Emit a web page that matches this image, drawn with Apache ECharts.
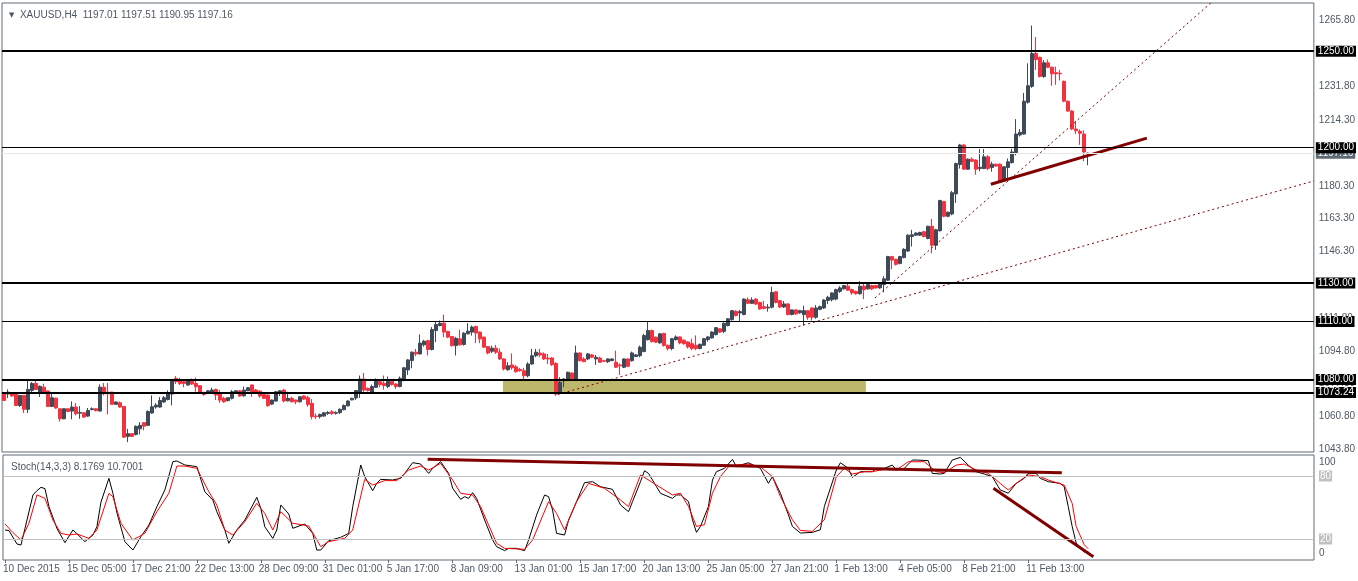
<!DOCTYPE html>
<html><head><meta charset="utf-8">
<script src="https://cdn.jsdelivr.net/npm/echarts@6/dist/echarts.min.js"></script>
<style>html,body{margin:0;padding:0;background:#fff}#c{width:1358px;height:581px}</style>
</head><body><div id="c"></div>
<script>
const tickLabels = ['10 Dec 2015','15 Dec 05:00','17 Dec 21:00','22 Dec 13:00','28 Dec 09:00','31 Dec 01:00','5 Jan 17:00','8 Jan 09:00','13 Jan 01:00','15 Jan 17:00','20 Jan 13:00','25 Jan 05:00','27 Jan 21:00','1 Feb 13:00','4 Feb 05:00','8 Feb 21:00','11 Feb 13:00'];
const priceTicks = [1043.8,1060.8,1077.8,1094.8,1111.8,1129.3,1146.3,1163.3,1180.3,1214.3,1231.8,1248.8,1265.8];
const stochTicks = [0,20,80,100];
const levels = [1250,1200,1130,1110,1080,1073.24];
const bidPrice = 1197.16;

const opens = [
1073.1,1072.4,1072.9,1072.4,1066.5,1071.7,1064.5,1074.3,1077.9,1073.4,
1076.0,1074.0,1066.0,1070.3,1064.8,1059.6,1064.8,1063.6,1065.7,1062.5,
1062.7,1061.0,1064.4,1064.8,1063.6,1076.0,1073.4,1073.4,1067.1,1067.9,
1066.0,1050.5,1051.9,1051.5,1054.4,1057.6,1056.2,1062.6,1065.7,1065.7,
1068.3,1069.6,1072.4,1080.5,1079.7,1078.8,1077.1,1079.7,1077.9,1076.7,
1073.3,1072.7,1073.4,1074.8,1072.4,1070.2,1069.0,1070.2,1073.3,1074.1,
1071.5,1074.1,1077.1,1074.5,1073.9,1072.2,1071.9,1067.2,1068.8,1072.7,
1074.5,1068.9,1070.2,1069.3,1068.4,1071.4,1070.5,1067.6,1061.0,1060.7,
1061.0,1062.4,1063.2,1062.5,1062.8,1064.3,1066.3,1069.4,1070.4,1072.8,
1080.2,1075.4,1073.3,1075.9,1078.9,1078.0,1076.3,1079.0,1077.6,1076.3,
1079.9,1084.9,1089.8,1094.1,1093.2,1097.9,1100.1,1095.5,1105.3,1107.9,
1109.1,1104.8,1102.2,1097.5,1101.0,1098.1,1103.6,1104.5,1107.4,1104.5,
1101.9,1097.0,1094.6,1096.2,1094.1,1090.6,1085.0,1087.5,1086.5,1085.2,
1084.5,1081.9,1088.0,1092.3,1093.7,1093.2,1091.0,1091.1,1088.3,1072.9,
1079.3,1079.7,1083.3,1080.2,1093.7,1090.6,1090.6,1092.7,1090.6,1091.1,
1089.7,1089.2,1089.7,1088.9,1087.5,1086.3,1090.6,1089.7,1091.9,1092.3,
1094.4,1100.6,1105.3,1101.9,1098.9,1103.8,1097.7,1096.0,1100.6,1102.0,
1100.3,1099.4,1098.5,1097.7,1096.0,1097.7,1100.6,1101.5,1103.2,1106.2,
1104.9,1107.9,1110.9,1115.3,1114.4,1113.6,1121.3,1119.4,1121.6,1119.9,
1117.7,1117.0,1117.4,1125.4,1120.8,1117.5,1119.1,1113.6,1116.0,1114.5,
1113.6,1115.6,1117.0,1112.2,1116.3,1117.0,1120.9,1121.3,1121.6,1125.6,
1126.9,1128.3,1126.5,1125.6,1124.4,1128.3,1126.9,1128.6,1128.6,1127.4,
1129.1,1131.4,1143.6,1142.2,1140.1,1143.1,1146.5,1154.0,1154.7,1154.7,
1156.5,1153.0,1159.3,1149.5,1157.0,1172.1,1164.5,1165.7,1176.1,1191.3,
1201.4,1188.9,1194.1,1193.6,1189.2,1189.2,1195.3,1189.8,1191.5,1191.5,
1183.0,1189.8,1192.3,1197.5,1206.6,1207.1,1223.6,1231.8,1248.8,1246.8,
1236.9,1244.0,1241.7,1238.9,1238.6,1234.4,1224.1,1219.0,1209.7,1208.5,
1207.1,1197.01];
const highs = [
1073.5,1074.8,1073.2,1072.6,1071.9,1071.9,1079.5,1078.6,1079.7,1076.9,
1077.8,1074.2,1073.4,1070.5,1065.0,1065.0,1065.2,1068.6,1067.7,1066.2,
1062.9,1065.2,1065.5,1065.2,1077.4,1078.1,1078.1,1073.6,1068.6,1068.6,
1066.2,1054.4,1052.2,1056.2,1057.9,1057.9,1063.9,1071.7,1067.7,1070.8,
1071.4,1074.3,1080.2,1081.7,1080.9,1079.7,1080.0,1080.5,1080.9,1077.1,
1073.6,1074.5,1075.7,1075.2,1074.5,1071.0,1070.7,1074.5,1074.4,1074.5,
1076.2,1076.0,1077.4,1075.0,1074.5,1072.7,1072.2,1069.6,1074.0,1074.5,
1075.0,1073.6,1071.0,1069.6,1071.2,1071.9,1071.5,1069.8,1062.4,1062.2,
1063.1,1063.6,1064.1,1063.5,1065.0,1067.0,1069.2,1070.5,1074.5,1082.0,
1083.4,1075.8,1077.3,1080.5,1080.2,1082.0,1081.5,1079.5,1078.0,1081.5,
1086.5,1090.5,1094.5,1095.8,1103.3,1100.5,1100.5,1107.1,1109.7,1110.5,
1113.6,1105.2,1102.5,1102.0,1105.8,1104.5,1109.1,1107.9,1107.9,1104.8,
1102.2,1097.3,1097.5,1097.9,1096.0,1091.0,1088.9,1093.5,1087.5,1086.0,
1086.0,1088.9,1095.8,1095.8,1095.8,1094.0,1093.2,1091.5,1088.9,1081.1,
1080.7,1084.0,1083.7,1097.5,1094.0,1091.5,1093.7,1093.2,1092.7,1091.8,
1090.2,1091.0,1091.0,1094.9,1088.3,1090.9,1091.0,1094.4,1093.2,1097.5,
1103.6,1110.0,1105.8,1102.2,1104.0,1104.2,1098.0,1101.5,1102.8,1102.3,
1100.8,1099.8,1101.1,1102.8,1098.5,1101.5,1102.4,1105.0,1107.1,1106.6,
1109.5,1111.8,1116.0,1115.8,1116.0,1122.0,1122.5,1122.5,1122.0,1120.2,
1120.7,1119.0,1128.0,1125.8,1121.2,1120.6,1119.5,1116.3,1116.3,1116.0,
1118.2,1116.0,1117.3,1118.5,1118.2,1121.6,1123.3,1125.0,1127.0,1128.3,
1129.0,1130.3,1127.0,1126.0,1130.9,1129.7,1130.0,1129.0,1129.0,1130.3,
1133.5,1144.0,1144.0,1142.5,1144.0,1148.0,1155.2,1157.5,1156.2,1156.5,
1157.0,1159.6,1163.1,1158.0,1173.0,1172.5,1167.0,1177.6,1192.3,1202.0,
1202.0,1194.5,1195.0,1194.0,1199.3,1199.3,1196.2,1192.7,1191.8,1191.8,
1190.5,1194.4,1199.5,1214.8,1209.7,1228.4,1243.7,1263.3,1257.3,1247.2,
1245.4,1245.7,1242.0,1242.0,1240.3,1234.8,1224.5,1219.4,1213.9,1209.5,
1209.0,1197.51];
const lows = [
1068.8,1070.3,1071.0,1066.2,1065.7,1062.6,1062.6,1073.4,1074.6,1070.9,
1072.6,1065.8,1065.7,1064.8,1058.2,1059.3,1063.0,1059.3,1061.4,1059.6,
1060.0,1060.5,1063.9,1063.4,1063.4,1071.7,1061.9,1066.9,1066.9,1065.3,
1049.8,1047.5,1050.1,1051.0,1051.5,1053.6,1055.8,1062.2,1064.8,1065.3,
1067.9,1069.1,1066.5,1077.6,1077.1,1075.9,1076.7,1077.1,1073.6,1072.4,
1071.5,1072.4,1073.1,1069.3,1067.9,1067.9,1068.6,1069.6,1073.0,1071.0,
1071.0,1073.9,1071.0,1072.7,1070.5,1069.8,1065.8,1066.7,1068.4,1071.4,
1068.1,1068.6,1068.1,1067.2,1068.1,1069.3,1065.8,1059.3,1059.4,1059.8,
1060.7,1061.6,1061.6,1061.8,1062.0,1064.0,1066.0,1069.2,1069.3,1070.4,
1072.5,1073.7,1072.5,1075.5,1075.9,1074.7,1075.5,1076.8,1075.1,1075.9,
1079.0,1082.3,1085.8,1092.0,1093.0,1097.0,1092.4,1095.0,1099.3,1107.5,
1101.9,1101.4,1097.0,1092.4,1097.5,1097.5,1103.3,1102.7,1098.9,1098.8,
1096.2,1093.0,1093.7,1093.2,1090.0,1084.6,1084.5,1085.0,1083.5,1084.0,
1079.7,1081.1,1087.5,1091.5,1091.5,1090.0,1088.0,1087.0,1071.5,1072.4,
1075.9,1079.3,1079.7,1079.9,1089.3,1088.9,1090.0,1091.0,1087.5,1088.5,
1089.0,1088.5,1089.5,1085.9,1082.3,1085.9,1086.4,1089.2,1091.5,1091.5,
1094.1,1100.1,1099.1,1098.8,1098.5,1097.0,1095.0,1095.1,1100.1,1098.2,
1098.0,1096.0,1095.1,1095.1,1095.6,1097.3,1099.5,1101.1,1102.8,1104.0,
1104.0,1107.5,1110.5,1112.6,1110.0,1113.2,1119.0,1119.0,1118.5,1116.0,
1116.3,1115.1,1116.8,1119.4,1117.0,1117.0,1113.2,1113.2,1113.5,1114.0,
1108.0,1110.9,1110.5,1111.4,1115.8,1116.5,1119.0,1120.4,1121.0,1124.8,
1126.5,1125.8,1123.9,1123.9,1123.9,1121.6,1126.5,1126.2,1127.0,1127.0,
1125.1,1131.0,1137.0,1139.0,1139.6,1142.7,1146.0,1148.8,1154.3,1154.3,
1153.6,1152.6,1145.3,1147.1,1156.6,1164.0,1164.0,1165.0,1171.4,1189.2,
1188.5,1188.5,1192.5,1186.0,1187.8,1188.9,1188.3,1187.6,1190.1,1182.0,
1182.5,1183.7,1191.8,1196.1,1205.8,1206.8,1222.8,1231.0,1240.3,1236.4,
1236.2,1241.2,1232.1,1232.6,1234.9,1223.6,1218.5,1209.2,1207.1,1201.5,
1193.0,1190.95];
const closes = [
1069.1,1073.4,1071.4,1066.5,1071.7,1064.5,1074.8,1077.9,1074.8,1076.4,
1073.4,1066.0,1070.5,1065.2,1059.6,1064.8,1063.4,1065.7,1062.2,1062.9,
1060.5,1063.9,1064.8,1063.8,1076.0,1072.6,1072.6,1067.1,1068.3,1065.7,
1050.1,1051.9,1050.5,1055.7,1056.2,1055.8,1063.4,1065.8,1066.7,1069.1,
1070.5,1073.1,1080.0,1078.8,1077.9,1077.9,1079.7,1077.6,1076.2,1072.7,
1072.2,1074.1,1074.5,1071.9,1069.3,1068.4,1070.5,1073.6,1074.1,1071.4,
1074.5,1075.7,1072.7,1073.3,1071.4,1070.2,1066.4,1069.3,1073.6,1074.1,
1068.8,1070.2,1068.4,1068.4,1071.0,1069.8,1067.0,1060.7,1060.7,1061.9,
1062.7,1062.9,1062.4,1062.8,1064.5,1066.5,1068.8,1070.2,1074.2,1080.2,
1074.5,1074.2,1076.3,1079.9,1077.3,1076.8,1079.0,1077.3,1076.3,1080.6,
1086.0,1090.1,1094.1,1093.2,1098.8,1099.8,1095.5,1105.8,1108.4,1109.1,
1104.5,1101.9,1097.5,1101.3,1097.9,1103.9,1105.0,1107.1,1104.0,1101.0,
1096.7,1093.7,1096.2,1094.1,1090.6,1085.4,1087.1,1086.0,1084.0,1084.5,
1081.9,1088.0,1092.3,1094.1,1092.7,1090.6,1090.6,1087.6,1072.4,1078.5,
1080.2,1083.7,1080.2,1093.7,1089.7,1089.2,1093.2,1091.5,1091.5,1088.9,
1089.4,1090.6,1090.6,1086.3,1087.1,1090.6,1086.8,1093.7,1092.7,1096.7,
1102.7,1105.3,1099.6,1099.3,1103.6,1097.5,1096.0,1101.1,1102.0,1098.9,
1098.5,1096.8,1096.0,1096.0,1098.2,1101.1,1102.0,1104.5,1106.8,1104.5,
1109.1,1111.4,1115.6,1113.1,1115.1,1121.6,1119.4,1121.1,1119.0,1116.5,
1116.8,1117.4,1125.0,1119.9,1117.5,1119.1,1113.6,1116.0,1113.9,1115.6,
1115.6,1112.2,1112.2,1117.0,1117.7,1121.1,1122.5,1124.8,1126.5,1127.4,
1128.6,1126.2,1124.8,1124.4,1128.3,1126.5,1129.1,1126.9,1127.4,1130.0,
1132.1,1143.6,1141.8,1139.6,1143.6,1147.4,1154.7,1154.9,1155.8,1156.1,
1154.0,1159.3,1149.5,1157.5,1172.7,1164.5,1166.6,1176.7,1191.8,1201.4,
1188.9,1194.1,1193.0,1188.9,1189.9,1195.3,1189.2,1191.5,1190.5,1182.5,
1190.1,1192.7,1197.8,1207.1,1208.0,1224.1,1232.1,1248.8,1245.7,1236.9,
1244.0,1241.7,1238.3,1238.3,1238.3,1224.1,1219.0,1209.7,1208.8,1207.5,
1197.8,1197.16];

// Stochastic main (%K) and signal (%D), read as [bar, value]
const stochK = [[0,28.6],[1,28],[3,15.2],[4,14.3],[5,30],[7,62],[8,66],[9,69.2],[10,68],[11,50.8],[13,30],[15,16.5],[17,28.6],[18,25],[20,17.5],[22,23.8],[23,31.7],[24,55],[26,77.8],[27,63.5],[28,45],[30,17.5],[32,9.5],[34,22.2],[36,33.3],[38,50.8],[40,66.7],[42,93.7],[43,94.3],[45,90.5],[48,88.9],[50,65],[52,57.1],[53,46],[55,28.6],[56,15.9],[58,28.6],[60,38],[63,59.7],[64,49.2],[65,31.7],[67,20.6],[68,28.6],[69,52.4],[71,43.8],[72,30.2],[75,34.3],[77,25.4],[78,9.5],[79,9.5],[81,18.4],[84,21.6],[86,25.4],[87,50.8],[89,90.5],[90,79.4],[92,66],[93,73],[94,76.8],[97,76.2],[99,77.8],[100,82.5],[102,92.7],[104,91.4],[106,82.5],[107,87.3],[109,93.7],[111,82.5],[112,68.3],[114,57.8],[115,60.3],[116,58.7],[117,64.1],[118,58.7],[120,38.1],[122,19],[123,12.7],[125,8.9],[126,11.1],[128,11.1],[130,8.9],[131,19],[133,42.9],[135,61.9],[136,60.3],[137,47.6],[138,25.4],[140,23.8],[141,38.1],[143,55.6],[145,73.7],[147,74.6],[149,69.8],[152,67.3],[154,52.4],[156,46],[157,55.6],[159,74.6],[160,85],[161,82.5],[163,69.8],[164,63.5],[167,58.7],[168,61.9],[169,62],[171,55.7],[172,38.3],[173,26.3],[174,32],[176,51],[177,76.2],[178,84.1],[180,87.3],[182,95.8],[183,88.8],[184,90.4],[186,92.6],[189,87.3],[191,73],[192,79.4],[194,63.6],[196,43],[197,32],[199,25.7],[202,26.3],[204,28.8],[205,51],[208,85.7],[209,92.6],[211,87.3],[212,78.7],[214,84.1],[217,84.1],[218,87.3],[220,87.3],[222,90.4],[223,85.7],[225,87.3],[227,95.2],[228,95.2],[231,94.6],[232,82.5],[234,81.9],[235,82.5],[237,95.2],[239,97.7],[241,90.4],[243,84.1],[245,81.9],[247,79.4],[249,66.7],[251,63.6],[253,73],[255,77.8],[256,82.5],[258,82.5],[259,77.8],[261,74.6],[264,73],[265,69.9],[266,51],[267,32],[268,16.2],[270,7.5],[271,8.18]];
const stochD = [[0,34.3],[2,26],[4,19],[6,35],[8,62],[10,58.7],[12,38],[14,25.4],[16,23.8],[18,24.8],[21,20.6],[23,28.6],[26,63.5],[27,60.3],[29,35],[32,19],[35,25.4],[38,46],[41,63.5],[43,89.5],[45,89.5],[48,87.3],[51,65],[53,52.4],[55,28.6],[57,23.8],[60,36.5],[63,54],[65,44.4],[67,28.6],[69,46],[72,35],[76,32.4],[79,12.7],[81,17.5],[85,20.6],[87,28.6],[90,76.8],[92,71.4],[95,75.6],[98,75.6],[101,85.7],[104,89.5],[106,85.7],[109,92],[112,76.2],[114,63.5],[117,61.9],[119,50.8],[123,15.9],[125,11.1],[130,10.2],[132,19],[136,55.6],[138,44.4],[140,28.6],[143,55.6],[146,73],[150,68.3],[154,57.1],[156,50.8],[159,81],[163,71.4],[167,61.9],[169,63.6],[171,51],[173,32],[175,33.6],[177,63.6],[179,79.4],[181,88.8],[183,90.4],[186,91.4],[189,88.8],[192,79.4],[194,60.4],[197,38.3],[199,28.2],[202,27.3],[205,38.3],[208,79.4],[210,87.3],[212,81.9],[215,84.1],[217,84.1],[220,86.3],[223,85.7],[226,93.6],[230,93.6],[233,84.1],[235,83.1],[238,90.4],[240,91.4],[243,85.7],[246,82.5],[249,73],[251,66.7],[253,73],[256,81],[259,79.4],[261,76.2],[265,71.4],[267,54],[268,32],[270,14.6],[271,10.7]];

// Drawn objects, in [bar, price] / [bar, stoch value]
const steepTrend = [[217.75,1122.2],[301.75,1275]];
const shallowTrend = [[138.5,1072.2],[327.5,1182.8]];
const supportTrend = [[246.75,1181.1],[285.75,1205.0]];
const zoneBars = [124.75,215.5];
const zonePrices = [1073.24,1080];
const stochTrendTop = [[105.75,95.9],[264.4,83.1]];
const stochTrendDown = [[247.3,68.3],[272.3,3]];

const SLOTS = 328;
const categories = Array.from({length: SLOTS}, (_, i) => String(i));
const candles = opens.map((o, i) => [o, closes[i], lows[i], highs[i]]);

const FG = '#4e5862', BORDER = '#5f6b75', FONT = 'Liberation Sans, Arial, sans-serif';
const labelEvery = (idx) => idx % 16 === 0 && idx / 16 < tickLabels.length;

const chart = echarts.init(document.getElementById('c'), null, {renderer: 'canvas'});
chart.setOption({
  animation: false,
  backgroundColor: '#fff',
  textStyle: {fontFamily: FONT},
  title: [
    {text: '{t|▼}  XAUUSD,H4  1197.01 1197.51 1190.95 1197.16', left: 4, top: 5,
     textStyle: {fontSize: 10, fontWeight: 'normal', color: FG, fontFamily: FONT,
       rich: {t: {fontSize: 7, color: FG, fontFamily: 'DejaVu Sans'}}}},
    {text: 'Stoch(14,3,3) 8.1769 10.7001', left: 6, top: 457,
     textStyle: {fontSize: 10, fontWeight: 'normal', color: FG, fontFamily: FONT}}
  ],
  grid: [
    {left: 2, top: 3, width: 1312, height: 449, show: true, borderColor: BORDER, borderWidth: 1, backgroundColor: '#fff'},
    {left: 2, top: 455, width: 1312, height: 105, show: true, borderColor: BORDER, borderWidth: 1, backgroundColor: '#fff'}
  ],
  xAxis: [
    {type: 'category', gridIndex: 0, data: categories, boundaryGap: true, show: false},
    {type: 'value', gridIndex: 0, position: 'top', min: -0.5, max: SLOTS - 0.5, show: false},
    {type: 'category', gridIndex: 1, data: categories, boundaryGap: true,
     axisLine: {show: false},
     axisTick: {show: true, interval: labelEvery, alignWithLabel: true, length: 3, lineStyle: {color: BORDER}},
     axisLabel: {interval: labelEvery, formatter: (v, idx) => tickLabels[idx / 16], align: 'left',
       fontSize: 10, color: FG, margin: 4, padding: [0, 0, 0, -2]}},
    {type: 'value', gridIndex: 1, position: 'top', min: -0.5, max: SLOTS - 0.5, show: false}
  ],
  yAxis: [
    {type: 'value', gridIndex: 0, position: 'right', min: 1042.4, max: 1274.97, scale: true,
     splitLine: {show: false},
     axisLine: {show: false},
     axisTick: {show: false},
     axisLabel: {customValues: priceTicks, formatter: v => v.toFixed(2), fontSize: 10, color: FG, margin: 5}},
    {type: 'value', gridIndex: 1, position: 'right', min: 0, max: 100,
     splitLine: {show: false}, axisLine: {show: false},
     axisTick: {show: false},
     axisLabel: {customValues: stochTicks, margin: 5, fontSize: 10, color: FG,
       formatter: v => v === 100 ? '{top|100}' : v === 0 ? '{bot|0}' : '{box|' + v + '}',
       rich: {
         top: {fontSize: 10, color: FG, padding: [14, 0, 0, 0]},
         bot: {fontSize: 10, color: FG, padding: [0, 0, 14, 0]},
         box: {fontSize: 10, color: '#fff', backgroundColor: '#c0c0c0', padding: [1, 1, 0, 1]}
       }}}
  ],
  series: [
    {type: 'line', name: 'zone', xAxisIndex: 1, yAxisIndex: 0, data: [], silent: true,
     markArea: {silent: true, itemStyle: {color: '#BDB76B', opacity: 1},
       data: [[{coord: [zoneBars[0], zonePrices[0]]}, {coord: [zoneBars[1], zonePrices[1]]}]]}},
    {type: 'candlestick', name: 'XAUUSD', xAxisIndex: 0, yAxisIndex: 0, data: candles, barWidth: 3,
     itemStyle: {color: '#3f4a58', color0: '#f2333f', borderColor: '#3f4a58', borderColor0: '#f2333f', borderWidth: 1},
     markLine: {silent: true, symbol: 'none', animation: false,
       data: [
         {yAxis: bidPrice, lineStyle: {color: '#e6e6e6', width: 1, type: 'solid'},
          label: {show: true, position: 'end', distance: 2, formatter: () => bidPrice.toFixed(2),
            backgroundColor: '#5f6a74', color: '#fff', fontSize: 10, padding: [1, 2, 0, 2]}}
       ].concat(levels.map(v => ({
          yAxis: v,
          lineStyle: {color: '#000', width: (v === 1200 || v === 1110) ? 1 : 2, type: 'solid'},
          label: {show: true, position: 'end', distance: 2, formatter: () => v.toFixed(2),
            backgroundColor: '#000', color: '#fff', fontSize: 10, padding: [1, 2, 0, 2]}
       })))}},
    {type: 'line', name: 'steep', xAxisIndex: 1, yAxisIndex: 0, data: steepTrend, z: 3, showSymbol: false, silent: true,
     lineStyle: {color: '#800000', width: 1, type: [2, 3]}},
    {type: 'line', name: 'shallow', xAxisIndex: 1, yAxisIndex: 0, data: shallowTrend, z: 3, showSymbol: false, silent: true,
     lineStyle: {color: '#800000', width: 1, type: [2, 3]}},
    {type: 'line', name: 'support', xAxisIndex: 1, yAxisIndex: 0, data: supportTrend, z: 3, showSymbol: false, silent: true,
     lineStyle: {color: '#800000', width: 3}},
    {type: 'line', name: '%K', xAxisIndex: 3, yAxisIndex: 1, data: stochK, showSymbol: false, silent: true,
     lineStyle: {color: '#000', width: 1},
     markLine: {silent: true, symbol: 'none', label: {show: false},
       lineStyle: {color: '#c0c0c0', width: 1, type: 'solid'},
       data: [{yAxis: 80}, {yAxis: 20}]}},
    {type: 'line', name: '%D', xAxisIndex: 3, yAxisIndex: 1, data: stochD, showSymbol: false, silent: true,
     lineStyle: {color: '#ff0000', width: 1}},
    {type: 'line', name: 'stTop', xAxisIndex: 3, yAxisIndex: 1, data: stochTrendTop, z: 4, showSymbol: false, silent: true,
     lineStyle: {color: '#800000', width: 3}},
    {type: 'line', name: 'stDown', xAxisIndex: 3, yAxisIndex: 1, data: stochTrendDown, z: 4, showSymbol: false, silent: true,
     lineStyle: {color: '#800000', width: 3}}
  ]
});
</script>
</body></html>
